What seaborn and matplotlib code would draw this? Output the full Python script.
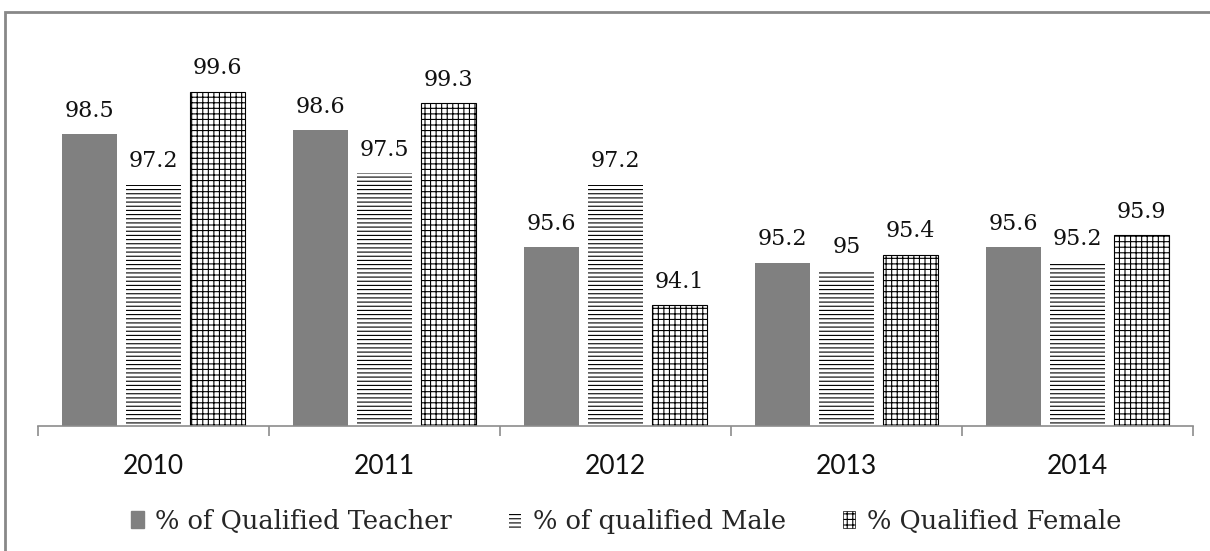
import pandas as pd
import matplotlib.pyplot as plt
import seaborn as sns
from matplotlib.patches import Patch, Rectangle

# Data
years = ["2010", "2011", "2012", "2013", "2014"]
series = ["% of Qualified Teacher", "% of qualified Male", "% Qualified Female"]
teacher = [98.5, 98.6, 95.6, 95.2, 95.6]
male = [97.2, 97.5, 97.2, 95.0, 95.2]
female = [99.6, 99.3, 94.1, 95.4, 95.9]

df = pd.DataFrame({
    "year": years * 3,
    "series": [series[0]] * 5 + [series[1]] * 5 + [series[2]] * 5,
    "value": teacher + male + female,
})

sns.set_style("white")
plt.rcParams["hatch.linewidth"] = 0.8

fig = plt.figure(figsize=(12.1, 5.51), dpi=100)
ax = fig.add_axes([0.0314, 0.2269, 0.9546, 0.6351])

sns.barplot(data=df, x="year", y="value", hue="series", order=years,
            hue_order=series, width=0.83, gap=0.14, legend=False, ax=ax)

styles = [
    dict(facecolor="#808080", edgecolor="#808080", hatch=None, lw=0),
    dict(facecolor="white", edgecolor="black", hatch="----", lw=0),
    dict(facecolor="white", edgecolor="black", hatch="+++", lw=0.8),
]
for cont, st in zip(ax.containers, styles):
    for p in cont:
        p.set_facecolor(st["facecolor"])
        p.set_edgecolor(st["edgecolor"])
        p.set_linewidth(st["lw"])
        if st["hatch"]:
            p.set_hatch(st["hatch"])
    ax.bar_label(cont, labels=[f"{v:g}" for v in cont.datavalues], padding=9,
                 fontsize=16, family="DejaVu Serif", color="#111111")

ax.set_ylim(91, 100)
ax.set_xlim(-0.5, 4.5)
ax.set_xlabel("")
ax.set_ylabel("")
ax.set_yticks([])

for s in ["top", "right", "left"]:
    ax.spines[s].set_visible(False)
ax.spines["bottom"].set_color("#8c8c8c")
ax.spines["bottom"].set_linewidth(1.2)

# category boundary ticks
ax.set_xticks([i - 0.5 for i in range(6)], minor=True)
ax.tick_params(axis="x", which="minor", bottom=True, direction="out",
               length=7, color="#8c8c8c", width=1.2)
ax.tick_params(axis="x", which="major", length=0, pad=20, labelsize=19)
for t in ax.get_xticklabels():
    t.set_family("Lato")
    t.set_color("#111111")

handles = [
    Patch(facecolor="#808080", edgecolor="#808080", label=series[0]),
    Patch(facecolor="white", edgecolor="black", hatch="----", lw=0, label=series[1]),
    Patch(facecolor="white", edgecolor="black", hatch="+++", lw=0.5, label=series[2]),
]
fig.legend(handles=handles, loc="center left", bbox_to_anchor=(0.089, 0.054),
           ncol=3, frameon=False, handlelength=0.5, handleheight=0.65,
           handletextpad=0.45, columnspacing=2.2,
           prop={"family": "DejaVu Serif", "size": 18.5})

fig.patches.append(Rectangle((0.004, -0.05), 1.2, 1.028, transform=fig.transFigure,
                             fill=False, edgecolor="#888888", lw=2))

fig.savefig("out.png", dpi=100)
